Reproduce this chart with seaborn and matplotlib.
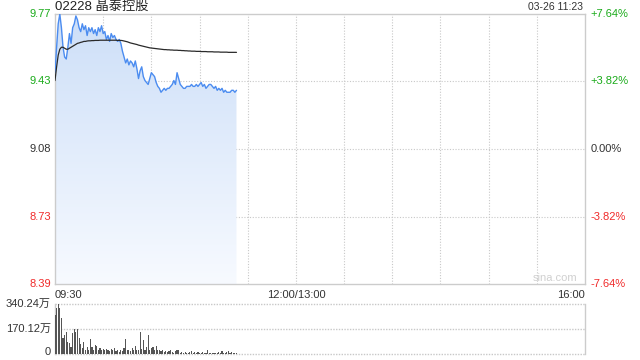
import numpy as np
import pandas as pd
import matplotlib
matplotlib.use("Agg")
import matplotlib.pyplot as plt
import seaborn as sns
from matplotlib.colors import LinearSegmentedColormap

# ---------------- data ----------------
title_code = "02228"
title_name = "晶泰控股"
timestamp = "03-26 11:23"
prev_close = 9.08
price_ticks = [9.77, 9.43, 9.08, 8.73, 8.39]
pct_ticks = ["+7.64%", "+3.82%", "0.00%", "-3.82%", "-7.64%"]
time_labels = ["09:30", "12:00/13:00", "16:00"]
vol_ticks = [340.24, 170.12, 0]
vol_tick_labels = ["340.24万", "170.12万", "0"]

price = [9.47, 9.60, 9.72, 9.77, 9.70, 9.60, 9.55, 9.54, 9.60, 9.67,
         9.62, 9.70, 9.72, 9.76, 9.74, 9.70, 9.68, 9.72, 9.69, 9.71,
         9.66, 9.70, 9.68, 9.70, 9.67, 9.69, 9.66, 9.70, 9.68, 9.71,
         9.67, 9.68, 9.64, 9.66, 9.63, 9.67, 9.65, 9.66, 9.64, 9.63,
         9.64, 9.62, 9.58, 9.55, 9.52, 9.54, 9.51, 9.53, 9.52, 9.50,
         9.53, 9.49, 9.44, 9.48, 9.50, 9.45, 9.43, 9.42, 9.41, 9.44,
         9.47, 9.46, 9.45, 9.42, 9.40, 9.39, 9.37, 9.38, 9.39, 9.38,
         9.39, 9.39, 9.40, 9.41, 9.43, 9.41, 9.47, 9.44, 9.41, 9.40,
         9.39, 9.39, 9.40, 9.40, 9.40, 9.41, 9.40, 9.40, 9.41, 9.40,
         9.41, 9.42, 9.40, 9.41, 9.39, 9.40, 9.41, 9.41, 9.40, 9.39,
         9.40, 9.38, 9.39, 9.38, 9.39, 9.37, 9.38, 9.37, 9.37, 9.37,
         9.38, 9.38, 9.37, 9.38]

avg_price = [9.43, 9.50, 9.56, 9.59, 9.60, 9.60, 9.595, 9.59, 9.59, 9.595,
             9.600, 9.605, 9.610, 9.615, 9.620, 9.622, 9.625, 9.627, 9.630, 9.630,
             9.632, 9.633, 9.633, 9.634, 9.634, 9.635, 9.635, 9.635, 9.636, 9.636,
             9.636, 9.636, 9.636, 9.636, 9.636, 9.636, 9.636, 9.636, 9.636, 9.635,
             9.635, 9.635, 9.634, 9.632, 9.630, 9.628, 9.625, 9.622, 9.620, 9.618,
             9.616, 9.614, 9.611, 9.609, 9.607, 9.605, 9.603, 9.601, 9.599, 9.597,
             9.596, 9.595, 9.594, 9.593, 9.592, 9.591, 9.590, 9.589, 9.588, 9.588,
             9.587, 9.587, 9.586, 9.586, 9.585, 9.585, 9.585, 9.584, 9.584, 9.583,
             9.583, 9.582, 9.582, 9.581, 9.581, 9.580, 9.580, 9.580, 9.579, 9.579,
             9.579, 9.578, 9.578, 9.578, 9.578, 9.577, 9.577, 9.577, 9.577, 9.576,
             9.576, 9.576, 9.576, 9.575, 9.575, 9.575, 9.575, 9.575, 9.574, 9.574,
             9.574, 9.574, 9.574, 9.574]

volume = [265, 313, 340.24, 313, 245, 109, 129, 150, 82, 75,
          48, 143, 170, 150, 170, 109, 70, 41, 82, 27,
          48, 27, 100, 48, 27, 60, 55, 27, 40, 30,
          35, 30, 35, 30, 20, 35, 25, 40, 20, 30,
          15, 25, 20, 40, 100, 30, 25, 20, 40, 25,
          55, 30, 25, 150, 35, 95, 30, 45, 130, 25,
          40, 50, 30, 55, 25, 30, 20, 25, 15, 20,
          12, 18, 25, 15, 10, 20, 30, 25, 10, 15,
          8, 12, 10, 8, 15, 20, 8, 12, 5, 15,
          10, 8, 12, 6, 8, 25, 10, 8, 5, 10,
          6, 8, 12, 5, 20, 8, 10, 15, 18, 8,
          12, 6, 10, 5]

minutes = list(range(len(price)))
total_minutes = 330

df = pd.DataFrame({"minute": minutes, "price": price, "avg": avg_price, "volume": volume})

# ---------------- style ----------------
sns.set_style("white")
plt.rcParams["font.family"] = ["Liberation Sans", "Noto Sans CJK SC", "DejaVu Sans"]

GREEN = "#1aab1a"
RED = "#f02a2a"
DARK = "#333333"
GRID = "#c8c8c8"
BORDER = "#cccccc"
LINE = "#4b8cf0"

W, H = 640, 360
fig = plt.figure(figsize=(W / 100, H / 100), dpi=100)

def fx(px):
    return px / W

def fy(py):
    return 1 - py / H

ax = fig.add_axes([fx(55), fy(284), fx(585) - fx(55), fy(14) - fy(284)])
axv = fig.add_axes([fx(55), fy(354), fx(585) - fx(55), fy(304) - fy(354)])

ymin, ymax = price_ticks[-1], price_ticks[0]
ax.set_xlim(0, total_minutes)
ax.set_ylim(ymin, ymax)

# gradient fill under price line
poly = ax.fill_between(df["minute"], df["price"], ymin, color="none", lw=0)
grad = np.linspace(0, 1, 256).reshape(-1, 1)
cmap = LinearSegmentedColormap.from_list("g", ["#f7faff", "#cddff8"])
img = ax.imshow(grad, aspect="auto", cmap=cmap, origin="lower",
                extent=[0, total_minutes, ymin, ymax], zorder=1)
img.set_clip_path(poly.get_paths()[0], transform=ax.transData)

sns.lineplot(data=df, x="minute", y="price", ax=ax, color=LINE, lw=1.0, zorder=3)
sns.lineplot(data=df, x="minute", y="avg", ax=ax, color="#2a2a2a", lw=0.9, zorder=4)

for k in range(1, 11):
    ax.axvline(k * 30, color=GRID, lw=0.8, ls=(0, (1, 1.5)), zorder=0)
for v in price_ticks[1:-1]:
    ax.axhline(v, color=GRID, lw=0.8, ls=(0, (1, 1.5)), zorder=0)

ax.set_xticks([])
ax.set_yticks([])
ax.set_xlabel("")
ax.set_ylabel("")
for s in ax.spines.values():
    s.set_color(BORDER)
    s.set_linewidth(1)

label_colors = [GREEN, GREEN, DARK, RED, RED]
for v, pct, c in zip(price_ticks, pct_ticks, label_colors):
    ax.text(-0.008, v, f"{v:.2f}", transform=ax.get_yaxis_transform(),
            ha="right", va="center", color=c, fontsize=8)
    ax.text(1.011, v, pct, transform=ax.get_yaxis_transform(),
            ha="left", va="center", color=c, fontsize=8)

ax.text(0, -0.022, time_labels[0], transform=ax.get_xaxis_transform(),
        ha="left", va="top", color=DARK, fontsize=8)
ax.text(150, -0.022, time_labels[1], transform=ax.get_xaxis_transform(),
        ha="center", va="top", color=DARK, fontsize=8)
ax.text(total_minutes, -0.022, time_labels[2], transform=ax.get_xaxis_transform(),
        ha="right", va="top", color=DARK, fontsize=8)

ax.text(0.985, 0.005, "sina.com", transform=ax.transAxes, ha="right", va="bottom",
        color="#d0d0d0", fontsize=8)

fig.text(fx(55), fy(7), f"{title_code} {title_name}", ha="left", va="center",
         color="#222222", fontsize=9.5)
fig.text(fx(583), fy(7), timestamp, ha="right", va="center", color=DARK, fontsize=7.5)

# volume
sns.barplot(data=df, x="minute", y="volume", ax=axv, native_scale=True,
            color="#555555", width=0.72, saturation=1, linewidth=0, zorder=3)
axv.set_xlim(0, total_minutes)
axv.set_ylim(0, vol_ticks[0])
axv.set_xticks([])
axv.set_yticks([])
axv.set_xlabel("")
axv.set_ylabel("")
for v in vol_ticks:
    axv.axhline(v, color=GRID, lw=1.0, ls=(0, (1, 1)), zorder=0, clip_on=False)
for k in ["top", "bottom"]:
    axv.spines[k].set_visible(False)
for k in ["left", "right"]:
    axv.spines[k].set_color(BORDER)
    axv.spines[k].set_linewidth(1)
for v, lab in zip(vol_ticks, vol_tick_labels):
    yy = v if v > 0 else 15
    axv.text(-0.008, yy, lab, transform=axv.get_yaxis_transform(),
             ha="right", va="center", color=DARK, fontsize=8)

fig.savefig("out.png", dpi=100)
